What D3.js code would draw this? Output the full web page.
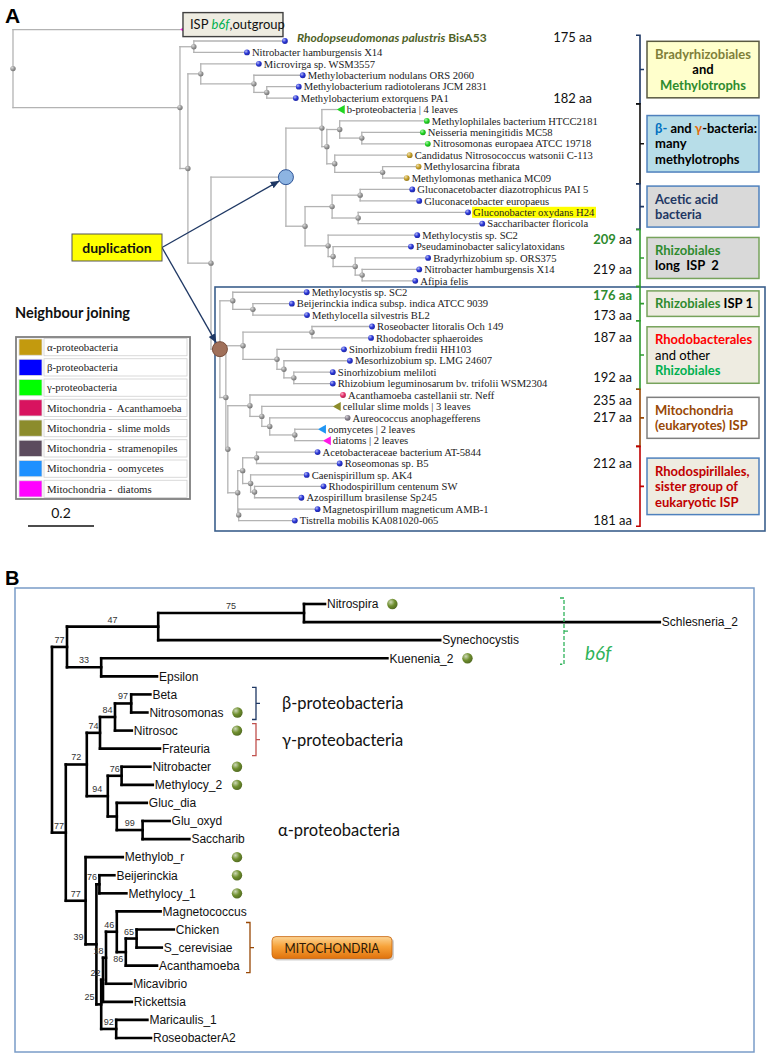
<!DOCTYPE html>
<html><head><meta charset="utf-8">
<script src="https://cdn.jsdelivr.net/npm/d3@7"></script>
<style>
body{margin:0;background:#fff;}
svg{display:block;}
text{white-space:pre;}
</style></head><body>
<script>
// ================= DATA =================
// ---- Panel A : neighbour-joining tree of ISP sequences (branch lengths in substitutions/site) ----
const aOutgroup   = "'ISP b6f,outgroup':0.506";
const aRhodopseudo = "('Rhodopseudomonas palustris BisA53':0.276,'Nitrobacter hamburgensis X14':0.161):0.042";
const aMethylobact = "('Microvirga sp. WSM3557':0.176,('Methylobacterium nodulans ORS 2060':0.148,('Methylobacterium radiotolerans JCM 2831':0.097,'Methylobacterium extorquens PA1':0.088):0.039):0.161):0.039";
const aBetaGamma  = "('b-proteobacteria | 4 leaves':0.045,(('Methylophilales bacterium HTCC2181':0.264,('Neisseria meningitidis MC58':0.185,'Nitrosomonas europaea ATCC 19718':0.2):0.067):0.039,('Candidatus Nitrosococcus watsonii C-113':0.227,('Methylosarcina fibrata':0.109,'Methylomonas methanica MC09':0.073):0.145):0.024):0.015):0.109";
const aAcetic     = "((('Gluconacetobacter diazotrophicus PAI 5':0.158,'Gluconacetobacter europaeus':0.179):0.085,('Gluconobacter oxydans H24':0.333,'Saccharibacter floricola':0.376):0.079):0.082,('Methylocystis sp. SC2':0.27,('Pseudaminobacter salicylatoxidans':0.236,('Bradyrhizobium sp. ORS375':0.221,('Nitrobacter hamburgensis X14':0.173,'Afipia felis':0.161):0.021):0.067):0.015):0.07):0.058";
const aRhizob     = "('Methylocystis sp. SC2':0.224,('Beijerinckia indica subsp. indica ATCC 9039':0.118,'Methylocella silvestris BL2':0.164):0.061):0.039";
const aRhodobact  = "(('Roseobacter litoralis Och 149':0.182,'Rhodobacter sphaeroides':0.179):0.209,('Sinorhizobium fredii HH103':0.203,('Mesorhizobium sp. LMG 24607':0.2,('Sinorhizobium meliloti':0.118,'Rhizobium leguminosarum bv. trifolii WSM2304':0.118):0.03):0.021):0.103):0.052";
const aMito       = "('Acanthamoeba castellanii str. Neff':0.282,('cellular slime molds | 3 leaves':0.215,('Aureococcus anophagefferens':0.236,('oomycetes | 2 leaves':0.07,'diatoms | 2 leaves':0.085):0.076):0.024):0.036):0.067";
const aRhodospir  = "((('Acetobacteraceae bacterium AT-5844':0.185,'Roseomonas sp. B5':0.252):0.042,('Caenispirillum sp. AK4':0.17,('Rhodospirillum centenum SW':0.209,'Azospirillum brasilense Sp245':0.142):0.012):0.024):0.015,('Magnetospirillum magneticum AMB-1':0.239,'Tistrella mobilis KA081020-065':0.17):0.003):0.03";
const treeA = `(${aOutgroup},(${aRhodopseudo},(${aMethylobact},((${aBetaGamma},${aAcetic})dupBlue:0.227,(${aRhizob},(${aRhodobact},(${aMito},${aRhodospir}):0.006):0.018)dupBrown:0.027):0.07):0.024):0.506);`;

// leaf marker colours (default: blue dot)
const aGreenLeaves = ["Methylophilales bacterium HTCC2181","Neisseria meningitidis MC58","Nitrosomonas europaea ATCC 19718"];
const aGoldLeaves  = ["Candidatus Nitrosococcus watsonii C-113","Methylosarcina fibrata","Methylomonas methanica MC09"];
const aPinkLeaves  = ["Acanthamoeba castellanii str. Neff"];
const aGrayLeaves  = ["Aureococcus anophagefferens"];
const aCollapsed      = ["ISP b6f,outgroup","b-proteobacteria | 4 leaves","cellular slime molds | 3 leaves","oomycetes | 2 leaves","diatoms | 2 leaves"];
const aCollapsedColor = ["#ff19e6","#22d622","#8c8c2c","#2196f3","#ff19e6"];
const aHighlighted = ["Gluconobacter oxydans H24"];
const aDupNodes  = ["dupBlue","dupBrown"];
const aDupFill   = ["#8db4e2","#a0705a"];
const aDupStroke = ["#2f5597","#7b4f3c"];

// protein lengths (aa) and the leaf row they sit beside (0 = outgroup row)
const aaValues = [175,182,209,219,176,173,187,192,235,217,212,181];
const aaRow    = [0.7,6,18.4,21,23.3,25,27,30.5,32.5,34,38,43];
const aaStyle  = ["plain","plain","num","plain","all","plain","plain","plain","plain","plain","plain","plain"];

// clade groups on the right (first/last leaf index)
const aGroupFirst = [1,7,14,18,23,26,32,37];
const aGroupLast  = [6,13,17,22,25,31,36,43];
const aGroupBracket = ["#1f3864","#111111","#1f3864","#2f9a2f","#2f9a2f","#2f9a2f","#984806","#c00000"];
const aGroupFill    = ["#ffffcc","#b7dde8","#d9d9d9","#d9d9d9","#eeece1","#eeece1","#ffffff","#eeece1"];
const aGroupStroke  = ["#5a5a40","#4f81bd","#4f81bd","#77a35c","#77a35c","#77a35c","#7f7f7f","#4f81bd"];
const aGroupAlign   = ["middle","start","start","start","start","start","start","start"];
const aGroupText = [
  [[["Bradyrhizobiales","#7f7f3a"]],[["and","#000"]],[["Methylotrophs","#2e8b2e"]]],
  [[["β-","#0070c0"],[" and ","#000"],["γ","#e46c0a"],["-bacteria:","#000"]],[["many","#000"]],[["methylotrophs","#000"]]],
  [[["Acetic acid","#1f3864"]],[["bacteria","#1f3864"]]],
  [[["Rhizobiales","#2e8b2e"]],[["long  ISP  2","#000"]]],
  [[["Rhizobiales","#2e8b2e"],[" ISP 1","#000"]]],
  [[["Rhodobacterales","#ff0000"]],[["and other","#000","normal"]],[["Rhizobiales","#00b050"]]],
  [[["Mitochondria","#984806"]],[["(eukaryotes) ISP","#984806"]]],
  [[["Rhodospirillales,","#c00000"]],[["sister group of","#c00000"]],[["eukaryotic ISP","#c00000"]]]
];

// legend
const legendLabels = ["α-proteobacteria","β-proteobacteria","γ-proteobacteria","Mitochondria -  Acanthamoeba","Mitochondria -  slime molds","Mitochondria -  stramenopiles","Mitochondria -  oomycetes","Mitochondria -  diatoms"];
const legendColors = ["#c39a0e","#0000ff","#00ff00","#d8135f","#8c8c2c","#5c4b5e","#1e90ff","#ff00ff"];
const scaleBarValue = 0.2;

// ---- Panel B : tree with bootstrap support ----
const bB6f       = "(((Nitrospira:0.035,Schlesneria_2:0.593)75:0.243,Synechocystis:0.47)47:0.152,(Kuenenia_2:0.477,Epsilon:0.093)33:0.057)77:0.025";
const bBetaGamma = "(((Beta:0.032,Nitrosomonas:0.027)97:0.027,Nitrosoc:0.028)84:0.025,Frateuria:0.1)74:0.022";
const bAlpha1    = "((Nitrobacter:0.048,Methylocy_2:0.052)76:0.023,(Gluc_dia:0.05,(Glu_oxyd:0.045,Saccharib:0.078)99:0.043):0.015)94:0.035";
const bMito      = "(Magnetococcus:0.073,((Chicken:0.062,S_cerevisiae:0.042)65:0.018,Acanthamoeba:0.052)86:0.015)46:0.018";
const bAlpha2    = `(Methylob_r:0.062,((Beijerinckia:0.025,Methylocy_1:0.045)76:0.005,(((${bMito},Micavibrio:0.042)18:0.005,Rickettsia:0.048)22:0.003,(Maricaulis_1:0.052,RoseobacterA2:0.058)92:0.025)25:0.008)39:0.018)77:0.033`;
const treeB = `(${bB6f},((${bBetaGamma},${bAlpha1})72:0.035,${bAlpha2})77:0.023);`;

const bDotLeaves = ["Nitrospira","Kuenenia_2","Nitrosomonas","Nitrosoc","Nitrobacter","Methylocy_2","Methylob_r","Beijerinckia","Methylocy_1"];
const bGroupLabels = ["b6f","β-proteobacteria","γ-proteobacteria","α-proteobacteria","MITOCHONDRIA"];
const bGroupFirst  = ["Nitrospira","Beta","Nitrosoc","Nitrobacter","Chicken"];
const bGroupLast   = ["Kuenenia_2","Nitrosomonas","Frateuria","Methylocy_1","Acanthamoeba"];
const bGroupKind   = ["dashed","solid","solid","none","button"];
const bGroupColor  = ["#2fb35a","#1f3864","#c0504d",null,"#984806"];

// ================= DRAWING =================
const SERIF = "'Liberation Serif','Times New Roman',serif";
const CAL   = "Lato,'Open Sans',sans-serif";
const ARIAL = "'Liberation Sans',Arial,sans-serif";

const svg = d3.select("body").append("svg").attr("width",770).attr("height",1057);
const defs = svg.append("defs");

function sphere(id,c){
  const g = defs.append("radialGradient").attr("id",id).attr("cx","35%").attr("cy","32%").attr("r","70%");
  g.append("stop").attr("offset","0%").attr("stop-color",d3.interpolateRgb(c,"#ffffff")(0.65));
  g.append("stop").attr("offset","55%").attr("stop-color",c);
  g.append("stop").attr("offset","100%").attr("stop-color",d3.color(c).darker(0.8));
  return `url(#${id})`;
}
const fillBlue = sphere("gBlue","#2a36d8");
const fillGreen = sphere("gGreen","#22d622");
const fillGold = sphere("gGold","#c8a22a");
const fillPink = sphere("gPink","#e8306a");
const fillGrayLeaf = sphere("gGrayLeaf","#8a8490");
const fillNode = sphere("gNode","#9a9a9a");
const fillOlive = sphere("gOlive","#6f8f2e");

function parseNewick(s){
  let i=0;
  function readLabel(){
    let t="";
    if(s[i]==="'"){ i++; while(i<s.length && s[i]!=="'") t+=s[i++]; i++; }
    else { while(i<s.length && !",():;".includes(s[i])) t+=s[i++]; }
    return t.trim();
  }
  function node(){
    const n={};
    if(s[i]==="("){
      i++; n.children=[node()];
      while(s[i]===","){ i++; n.children.push(node()); }
      i++;
    }
    n.name=readLabel(); n.length=0;
    if(s[i]===":"){ i++; let t=""; while(i<s.length && !",();".includes(s[i])) t+=s[i++]; n.length=+t; }
    return n;
  }
  return node();
}
function layoutTree(data,xs,ys){
  const root=d3.hierarchy(data);
  root.each(d=>{ d.dist=d.parent? d.parent.dist+d.data.length:0; d.px=xs(d.dist); });
  root.leaves().forEach((l,k)=>{ l.py=ys(k); l.k=k; });
  root.eachAfter(d=>{ if(d.children) d.py=(d.children[0].py+d.children[d.children.length-1].py)/2; });
  return root;
}
function linkSegments(root){
  const segs=[];
  root.each(d=>{ if(d.children){ const c=d.children;
    segs.push({x1:d.px,y1:c[0].py,x2:d.px,y2:c[c.length-1].py});
    c.forEach(ch=>segs.push({x1:d.px,y1:ch.py,x2:ch.px,y2:ch.py})); }});
  return segs;
}
function bracketPath(x,y1,y2,hook,tick){
  return `M${x-hook},${y1}H${x}V${y2}H${x-hook}M${x},${(y1+y2)/2}H${x+tick}`;
}

// ---------------- Panel A ----------------
const gA = svg.append("g");
gA.append("text").attr("x",5).attr("y",23).attr("font-family",ARIAL).attr("font-weight","bold").attr("font-size",21).text("A");

const xA = d3.scaleLinear().domain([0,scaleBarValue]).range([13,79]);
const yA = d3.scaleLinear().domain([0,43]).range([29.6,520.6]);
const rootA = layoutTree(parseNewick(treeA),xA,yA);
const leavesA = rootA.leaves();

gA.append("rect").attr("x",215).attr("y",287).attr("width",550).attr("height",244)
  .attr("fill","none").attr("stroke","#3b5f8c").attr("stroke-width",1.6);

gA.append("g").selectAll("line").data(linkSegments(rootA)).join("line")
  .attr("x1",d=>d.x1).attr("y1",d=>d.y1).attr("x2",d=>d.x2).attr("y2",d=>d.y2)
  .attr("stroke","#b3b3b3").attr("stroke-width",1.3).attr("stroke-linecap","square");

const internA = rootA.descendants().filter(d=>d.children);
gA.append("g").selectAll("circle").data(internA.filter(d=>!aDupNodes.includes(d.data.name))).join("circle")
  .attr("cx",d=>d.px).attr("cy",d=>d.py).attr("r",2.7).attr("fill",fillNode);
internA.filter(d=>aDupNodes.includes(d.data.name)).forEach(d=>{
  const k=aDupNodes.indexOf(d.data.name);
  gA.append("circle").attr("cx",d.px).attr("cy",d.py).attr("r",7.5)
    .attr("fill",aDupFill[k]).attr("stroke",aDupStroke[k]).attr("stroke-width",1);
});

const hlG = gA.append("g");
const leafG = gA.append("g");
leavesA.forEach(l=>{
  const name=l.data.name;
  const ci=aCollapsed.indexOf(name);
  if(ci>=0){
    leafG.append("path").attr("d",`M${l.px},${l.py}L${l.px+8},${l.py-4.5}L${l.px+8},${l.py+4.5}Z`).attr("fill",aCollapsedColor[ci]);
  } else {
    let f=fillBlue;
    if(aGreenLeaves.includes(name)) f=fillGreen;
    else if(aGoldLeaves.includes(name)) f=fillGold;
    else if(aPinkLeaves.includes(name)) f=fillPink;
    else if(aGrayLeaves.includes(name)) f=fillGrayLeaf;
    leafG.append("circle").attr("cx",l.px).attr("cy",l.py).attr("r",2.9).attr("fill",f);
  }
  if(name==="ISP b6f,outgroup"){
    leafG.append("rect").attr("x",l.px+3).attr("y",l.py-17).attr("width",100).attr("height",24)
      .attr("fill","#eeece1").attr("stroke","#404040").attr("stroke-width",1.4);
    const t=leafG.append("text").attr("x",l.px+10).attr("y",l.py-0.5).attr("font-family",CAL).attr("font-size",13).attr("fill","#111");
    t.append("tspan").text("ISP ");
    t.append("tspan").attr("fill","#00b050").attr("font-style","italic").text("b6f");
    t.append("tspan").text(",outgroup");
  } else if(name==="Rhodopseudomonas palustris BisA53"){
    const t=leafG.append("text").attr("x",l.px+12).attr("y",l.py+1).attr("font-family",CAL).attr("font-weight","bold").attr("font-size",12).attr("fill","#4f6228");
    t.append("tspan").attr("font-style","italic").text("Rhodopseudomonas palustris");
    t.append("tspan").text(" BisA53");
  } else {
    const tx = l.px + (ci>=0?10:5);
    const t=leafG.append("text").attr("x",tx).attr("y",l.py).attr("dy","0.35em")
      .attr("font-family",SERIF).attr("font-size",10.6).attr("fill","#222").text(name);
    if(aHighlighted.includes(name)){
      const bb=t.node().getBBox();
      hlG.append("rect").attr("x",bb.x-1).attr("y",l.py-5.5).attr("width",bb.width+2).attr("height",11).attr("fill","#ffff00");
    }
  }
});

// aa labels
aaValues.forEach((v,i)=>{
  const y=yA(aaRow[i]);
  const inFirst = aaRow[i]<=aGroupLast[0];
  const t=gA.append("text").attr("x",inFirst?592:632).attr("y",y).attr("dy","0.35em").attr("text-anchor","end")
    .attr("font-family",CAL).attr("font-size",13).attr("fill","#111");
  if(aaStyle[i]==="all"){ t.attr("fill","#2e8b2e").attr("font-weight","bold").text(v+" aa"); }
  else if(aaStyle[i]==="num"){ t.append("tspan").attr("fill","#2e8b2e").attr("font-weight","bold").text(v); t.append("tspan").text(" aa"); }
  else t.text(v+" aa");
});

// brackets and boxes
aGroupFirst.forEach((f,i)=>{
  const y1=yA(f)-5.7, y2=yA(aGroupLast[i])+5.7, mid=(y1+y2)/2;
  gA.append("path").attr("d",bracketPath(640,y1,y2,4,4)).attr("fill","none").attr("stroke",aGroupBracket[i]).attr("stroke-width",1.6);
  const lines=aGroupText[i]; const h=10+15.5*lines.length; const bx=647, bw=112;
  gA.append("rect").attr("x",bx).attr("y",mid-h/2).attr("width",bw).attr("height",h)
    .attr("fill",aGroupFill[i]).attr("stroke",aGroupStroke[i]).attr("stroke-width",1.5);
  lines.forEach((segs,j)=>{
    const t=gA.append("text").attr("x",aGroupAlign[i]==="middle"?bx+bw/2:bx+8)
      .attr("y",mid-h/2+5+15.5*(j+0.5)).attr("dy","0.36em").attr("text-anchor",aGroupAlign[i])
      .attr("font-family",CAL).attr("font-size",13).attr("font-weight","bold");
    segs.forEach(s=>t.append("tspan").attr("fill",s[1]).attr("font-weight",s[2]||"bold").text(s[0]));
  });
});

// duplication callout
defs.append("marker").attr("id","arr").attr("viewBox","0 0 10 10").attr("refX",9).attr("refY",5)
  .attr("markerWidth",7).attr("markerHeight",7).attr("orient","auto")
  .append("path").attr("d","M0,1L10,5L0,9Z").attr("fill","#1f3864");
const dupBox={x:72,y:234,w:90,h:27};
internA.filter(d=>aDupNodes.includes(d.data.name)).forEach(d=>{
  const sx=dupBox.x+dupBox.w, sy=dupBox.y+dupBox.h/2;
  const dx=d.px-sx, dy=d.py-sy, L=Math.hypot(dx,dy);
  gA.append("line").attr("x1",sx).attr("y1",sy).attr("x2",d.px-dx/L*8).attr("y2",d.py-dy/L*8)
    .attr("stroke","#1f3864").attr("stroke-width",1.3).attr("marker-end","url(#arr)");
});
gA.append("rect").attr("x",dupBox.x).attr("y",dupBox.y).attr("width",dupBox.w).attr("height",dupBox.h)
  .attr("fill","#ffff00").attr("stroke","#555").attr("stroke-width",1);
gA.append("text").attr("x",dupBox.x+dupBox.w/2).attr("y",dupBox.y+dupBox.h/2).attr("dy","0.36em").attr("text-anchor","middle")
  .attr("font-family",CAL).attr("font-weight","bold").attr("font-size",14).attr("fill","#111").text("duplication");

// legend
gA.append("text").attr("x",15).attr("y",318).attr("font-family",CAL).attr("font-weight","bold").attr("font-size",14.5).attr("fill","#111").text("Neighbour joining");
const lgX=16, lgY=337, rowH=20.25, lgW=174;
gA.append("rect").attr("x",lgX).attr("y",lgY).attr("width",lgW).attr("height",rowH*legendLabels.length)
  .attr("fill","#fff").attr("stroke","#7f7f7f").attr("stroke-width",1.8);
legendLabels.forEach((lab,i)=>{
  const y=lgY+i*rowH;
  gA.append("rect").attr("x",lgX+3).attr("y",y+2).attr("width",23).attr("height",rowH-4).attr("fill",legendColors[i]).attr("stroke","#ddd").attr("stroke-width",0.8);
  gA.append("rect").attr("x",lgX+28).attr("y",y+1.5).attr("width",lgW-31).attr("height",rowH-3).attr("fill","none").attr("stroke","#d0d0d0").attr("stroke-width",0.8);
  gA.append("text").attr("x",lgX+31).attr("y",y+rowH/2).attr("dy","0.35em").attr("font-family",SERIF).attr("font-size",10.8).attr("fill","#222").text(lab);
});
const sbX=28, sbY=526;
gA.append("line").attr("x1",sbX).attr("x2",sbX+xA(scaleBarValue)-xA(0)).attr("y1",sbY).attr("y2",sbY).attr("stroke","#111").attr("stroke-width",1.6);
gA.append("text").attr("x",sbX+(xA(scaleBarValue)-xA(0))/2).attr("y",sbY-8).attr("text-anchor","middle").attr("font-family",CAL).attr("font-size",14).attr("fill","#111").text(String(scaleBarValue));

// ---------------- Panel B ----------------
const gB = svg.append("g");
gB.append("text").attr("x",5).attr("y",585).attr("font-family",ARIAL).attr("font-weight","bold").attr("font-size",20).text("B");
gB.append("rect").attr("x",15).attr("y",588).attr("width",739).attr("height",464).attr("fill","none").attr("stroke","#7a9cc8").attr("stroke-width",1.5);

const xB = d3.scaleLinear().domain([0,1]).range([52,652]);
const yB = d3.scaleLinear().domain([0,24]).range([604,1038]);
const rootB = layoutTree(parseNewick(treeB),xB,yB);
const leavesB = rootB.leaves();
const segsB = linkSegments(rootB);

gB.append("g").selectAll("line").data(segsB).join("line")
  .attr("x1",d=>d.x1).attr("y1",d=>d.y1).attr("x2",d=>d.x2).attr("y2",d=>d.y2)
  .attr("stroke","#000").attr("stroke-width",2.6).attr("stroke-linecap","square");

// bootstrap labels: centred on long branches; on short branches try spots that avoid the lines
function hitsLine(b){
  return segsB.some(s=>{
    const x1=Math.min(s.x1,s.x2)-1.3, x2=Math.max(s.x1,s.x2)+1.3, y1=Math.min(s.y1,s.y2)-1.3, y2=Math.max(s.y1,s.y2)+1.3;
    return b.x1<x2 && b.x2>x1 && b.y1<y2 && b.y2>y1;
  });
}
rootB.descendants().filter(d=>d.children && d.parent && d.data.name).forEach(d=>{
  const len=d.px-d.parent.px;
  const t=gB.append("text").attr("font-family",ARIAL).attr("font-size",9).attr("fill","#333").text(d.data.name);
  if(len>=12){ t.attr("x",(d.px+d.parent.px)/2).attr("y",d.py-4).attr("text-anchor","middle"); return; }
  const w=t.node().getComputedTextLength();
  const cands=[[d.px-2.5,d.py-4],[d.parent.px-2,d.py-4],[d.px-2.5,d.py+10]];
  let pick=cands[0];
  for(const c of cands){ if(!hitsLine({x1:c[0]-w,x2:c[0],y1:c[1]-7,y2:c[1]+1})){ pick=c; break; } }
  t.attr("x",pick[0]).attr("y",pick[1]).attr("text-anchor","end");
});
const leafPosB={};
leavesB.forEach(l=>{
  const t=gB.append("text").attr("x",l.px+2).attr("y",l.py).attr("dy","0.36em")
    .attr("font-family",ARIAL).attr("font-size",12).attr("fill","#111").text(l.data.name);
  const end=l.px+2+t.node().getComputedTextLength();
  leafPosB[l.data.name]={y:l.py,end:end};
  if(bDotLeaves.includes(l.data.name)){
    gB.append("circle").attr("cx",Math.max(end+14,237)).attr("cy",l.py).attr("r",5.2).attr("fill",fillOlive);
  }
});
const btnGrad=defs.append("linearGradient").attr("id","btn").attr("x1",0).attr("y1",0).attr("x2",0).attr("y2",1);
btnGrad.append("stop").attr("offset","0%").attr("stop-color","#fcd596");
btnGrad.append("stop").attr("offset","45%").attr("stop-color","#f7a33a");
btnGrad.append("stop").attr("offset","100%").attr("stop-color","#e0720c");
const bBracketX = {dashed:564, solid:256, button:250};
const bLabelX   = {dashed:585, solid:282, none:278, button:272};
bGroupLabels.forEach((lab,i)=>{
  const y1=leafPosB[bGroupFirst[i]].y, y2=leafPosB[bGroupLast[i]].y;
  const kind=bGroupKind[i];
  const pad = kind==="dashed"?6:7;
  const top=y1-pad, bot=y2+pad, mid=(top+bot)/2;
  if(kind!=="none"){
    const p=gB.append("path").attr("d",bracketPath(bBracketX[kind],top,bot,4,4)).attr("fill","none")
      .attr("stroke",bGroupColor[i]).attr("stroke-width",1.3);
    if(kind==="dashed") p.attr("stroke-dasharray","4,2");
  }
  if(kind==="button"){
    gB.append("rect").attr("x",bLabelX.button+2).attr("y",mid-9).attr("width",120).attr("height",22).attr("rx",4).attr("fill","#999").attr("opacity",0.45);
    gB.append("rect").attr("x",bLabelX.button).attr("y",mid-11).attr("width",120).attr("height",22).attr("rx",4)
      .attr("fill","url(#btn)").attr("stroke","#c8650e").attr("stroke-width",0.8);
    gB.append("text").attr("x",bLabelX.button+60).attr("y",mid).attr("dy","0.36em").attr("text-anchor","middle")
      .attr("font-family",CAL).attr("font-size",14).attr("fill","#2a1808").attr("textLength",95).attr("lengthAdjust","spacingAndGlyphs").text(lab);
  } else if(kind==="dashed"){
    gB.append("text").attr("x",bLabelX.dashed).attr("y",mid+22).attr("dy","0.35em").attr("font-family",CAL)
      .attr("font-style","italic").attr("font-size",19).attr("fill","#2fb35a").text(lab);
  } else {
    const ym = kind==="none" ? (y1+y2)/2 : mid;
    gB.append("text").attr("x",bLabelX[kind]).attr("y",ym).attr("dy","0.36em").attr("font-family",CAL)
      .attr("font-size",16.5).attr("fill","#111").text(lab);
  }
});
</script>
</body></html>
